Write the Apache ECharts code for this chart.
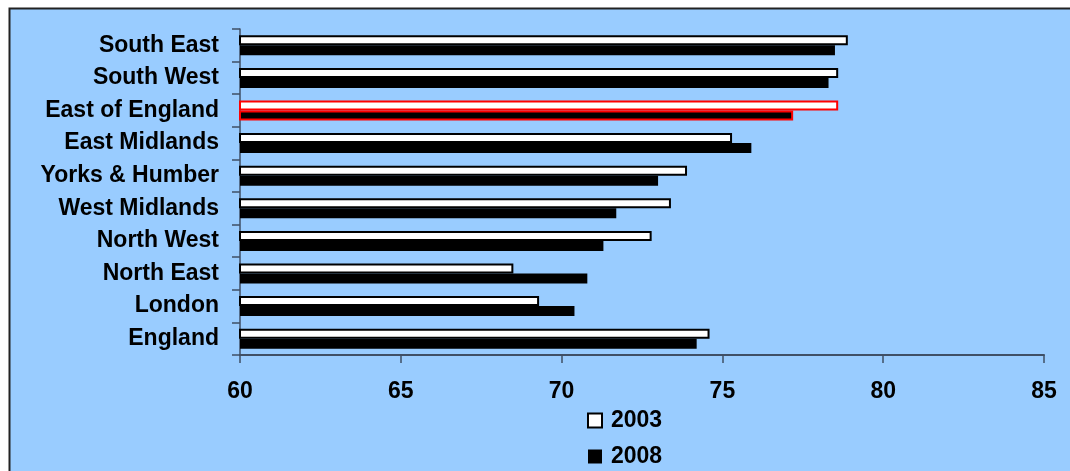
<!DOCTYPE html>
<html>
<head>
<meta charset="utf-8">
<script src="https://cdn.jsdelivr.net/npm/echarts@6/dist/echarts.min.js"></script>
<style>
  html, body { margin: 0; padding: 0; background: #ffffff; }
  #chart { width: 1070px; height: 471px; }
</style>
</head>
<body>
<div id="chart"></div>
<script>
// Regions, listed top to bottom
const regions = ['South East', 'South West', 'East of England', 'East Midlands', 'Yorks & Humber',
                 'West Midlands', 'North West', 'North East', 'London', 'England'];
const values2003 = [78.9, 78.6, 78.6, 75.3, 73.9, 73.4, 72.8, 68.5, 69.3, 74.6];
const values2008 = [78.5, 78.3, 77.2, 75.9, 73.0, 71.7, 71.3, 70.8, 70.4, 74.2];
const seriesNames = ['2003', '2008'];
const highlighted = 'East of England';
const xTicks = [60, 65, 70, 75, 80, 85];

const FONT = 'Liberation Sans, Arial, sans-serif';
const AXIS_COLOR = '#3f4f66';

function toData(values) {
  return values.map((v, i) => regions[i] === highlighted
    ? { value: v, itemStyle: { borderColor: '#ff0000', borderWidth: 2 } }
    : v);
}

const chart = echarts.init(document.getElementById('chart'), null, { renderer: 'canvas' });

chart.setOption({
  animation: false,
  backgroundColor: '#ffffff',
  graphic: [{
    type: 'rect',
    z: -10,
    silent: true,
    shape: { x: 9.5, y: 8.5, width: 1100, height: 500 },
    style: { fill: '#99ccff', stroke: '#222222', lineWidth: 2 }
  }],
  grid: { left: 240, right: 26, top: 29, bottom: 116, containLabel: false },
  legend: {
    data: seriesNames,
    orient: 'vertical',
    left: 587,
    top: 409,
    padding: 0,
    itemWidth: 14,
    itemHeight: 14,
    itemGap: 13,
    icon: 'rect',
    textStyle: { fontFamily: FONT, fontWeight: 'bold', fontSize: 23, color: '#000', padding: [0, 0, 0, 4] }
  },
  xAxis: {
    type: 'value',
    min: xTicks[0],
    max: xTicks[xTicks.length - 1],
    interval: 5,
    splitLine: { show: false },
    axisLine: { show: true, lineStyle: { color: AXIS_COLOR, width: 2 } },
    axisTick: { show: true, length: 8, lineStyle: { color: AXIS_COLOR, width: 1.5 } },
    axisLabel: { margin: 25, fontFamily: FONT, fontWeight: 'bold', fontSize: 23, color: '#000' }
  },
  yAxis: {
    type: 'category',
    data: regions,
    inverse: true,
    axisLine: { show: true, lineStyle: { color: AXIS_COLOR, width: 1.5 } },
    axisTick: { show: true, length: 8, lineStyle: { color: AXIS_COLOR, width: 1.5 } },
    axisLabel: { margin: 21, fontFamily: FONT, fontWeight: 'bold', fontSize: 23, color: '#000' }
  },
  series: [
    {
      name: seriesNames[0],
      type: 'bar',
      data: toData(values2003),
      barWidth: 10,
      barGap: '0%',
      itemStyle: { color: '#ffffff', borderColor: '#000000', borderWidth: 2 }
    },
    {
      name: seriesNames[1],
      type: 'bar',
      data: toData(values2008),
      barWidth: 10,
      itemStyle: { color: '#000000', borderColor: '#000000', borderWidth: 0 }
    }
  ]
});
</script>
</body>
</html>
